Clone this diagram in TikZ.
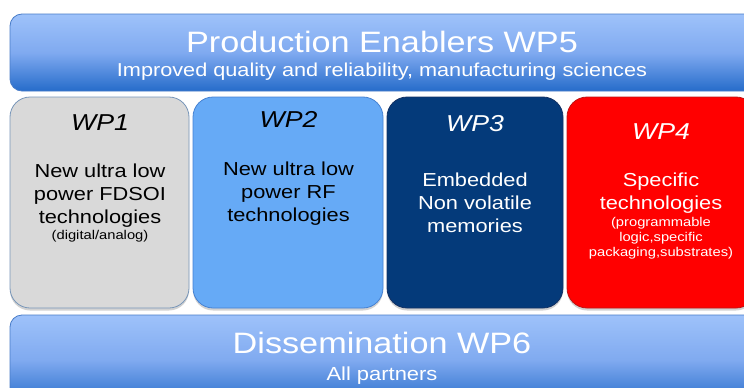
\documentclass[tikz,border=0pt]{standalone}
\usepackage{fontspec}
\setmainfont{Liberation Sans}[FakeStretch=1.16]
\usetikzlibrary{shadows}

\definecolor{barTop}{RGB}{158,194,250}
\definecolor{barMid}{RGB}{128,170,240}
\definecolor{barBot}{RGB}{38,108,202}
\definecolor{barEdge}{RGB}{72,124,200}
\definecolor{wpGray}{RGB}{217,217,217}
\definecolor{wpGrayEdge}{RGB}{120,150,185}
\definecolor{wpLight}{RGB}{102,170,246}
\definecolor{wpLightEdge}{RGB}{70,130,210}
\definecolor{wpNavy}{RGB}{4,58,122}
\definecolor{wpNavyEdge}{RGB}{20,50,100}
\definecolor{wpRed}{RGB}{255,0,0}
\definecolor{wpRedEdge}{RGB}{190,20,20}

\begin{document}
\begin{tikzpicture}[x=1pt,y=-1pt,
  bar/.style={rounded corners=12pt, draw=barEdge, line width=0.8pt,
    top color=barTop, bottom color=barBot, middle color=barMid,
    anchor=north west, inner sep=0pt, outer sep=0pt},
  wpbox/.style={rounded corners=20pt, line width=0.8pt, anchor=north west,
    inner sep=0pt, outer sep=0pt, minimum height=211pt,
    drop shadow={opacity=0.35, shadow xshift=0pt, shadow yshift=-2.5pt}},
  % multi-line texts are placed by the baseline of their last line
  txt/.style={inner sep=0pt, outer sep=0pt, anchor=base, align=center},
  bigtxt/.style={txt, font=\fontsize{29.5}{34}\selectfont},
  wptitle/.style={txt, font=\fontsize{23}{27}\itshape\selectfont},
  wpbody/.style={txt, font=\fontsize{18.8}{23.3}\selectfont},
  wpsmall/.style={txt, font=\fontsize{12.7}{15}\selectfont}]

\useasboundingbox (0,0) rectangle (744,388);
\clip (0,0) rectangle (744,388);
\fill[white] (0,0) rectangle (744,388);

% production enablers bar
\node[bar, minimum width=760pt, minimum height=77pt] (wp5) at (10,14) {};
\node[bigtxt, text=white] (wp5title) at (382,52.5) {Production Enablers WP5};
\node[txt, text=white, font=\fontsize{18.7}{22}\selectfont] (wp5sub) at (382,76) {Improved quality and reliability, manufacturing sciences};

% work package boxes
\node[wpbox, fill=wpGray, draw=wpGrayEdge, minimum width=179pt] (wp1) at (10,97) {};
\node[wpbox, fill=wpLight, draw=wpLightEdge, minimum width=190pt] (wp2) at (193,97) {};
\node[wpbox, fill=wpNavy, draw=wpNavyEdge, minimum width=176pt] (wp3) at (387,97) {};
\node[wpbox, fill=wpRed, draw=wpRedEdge, minimum width=189pt] (wp4) at (567,97) {};

% WP1
\node[wptitle] (wp1title) at (100,130) {WP1};
\node[wpbody] (wp1body) at (100,223.9) {New ultra low\\power FDSOI\\technologies};
\node[wpsmall] (wp1note) at (100,239) {(digital/analog)};

% WP2
\node[wptitle] (wp2title) at (288.5,127.3) {WP2};
\node[wpbody] (wp2body) at (288.5,221.6) {New ultra low\\power RF\\technologies};

% WP3
\node[wptitle, text=white] (wp3title) at (475,131) {WP3};
\node[wpbody, text=white] (wp3body) at (475,232.7) {Embedded\\Non volatile\\memories};

% WP4
\node[wptitle, text=white] (wp4title) at (661,139.3) {WP4};
\node[wpbody, text=white] (wp4body) at (661,209.3) {Specific\\technologies};
\node[wpsmall, text=white] (wp4note) at (661,256.7) {(programmable\\logic,specific\\packaging,substrates)};

% dissemination bar
\node[bar, minimum width=760pt, minimum height=90pt] (wp6) at (10,315) {};
\node[bigtxt, text=white] (wp6title) at (382,353) {Dissemination WP6};
\node[txt, text=white, font=\fontsize{18.9}{22}\selectfont] (wp6sub) at (382,380) {All partners};
\end{tikzpicture}
\end{document}
